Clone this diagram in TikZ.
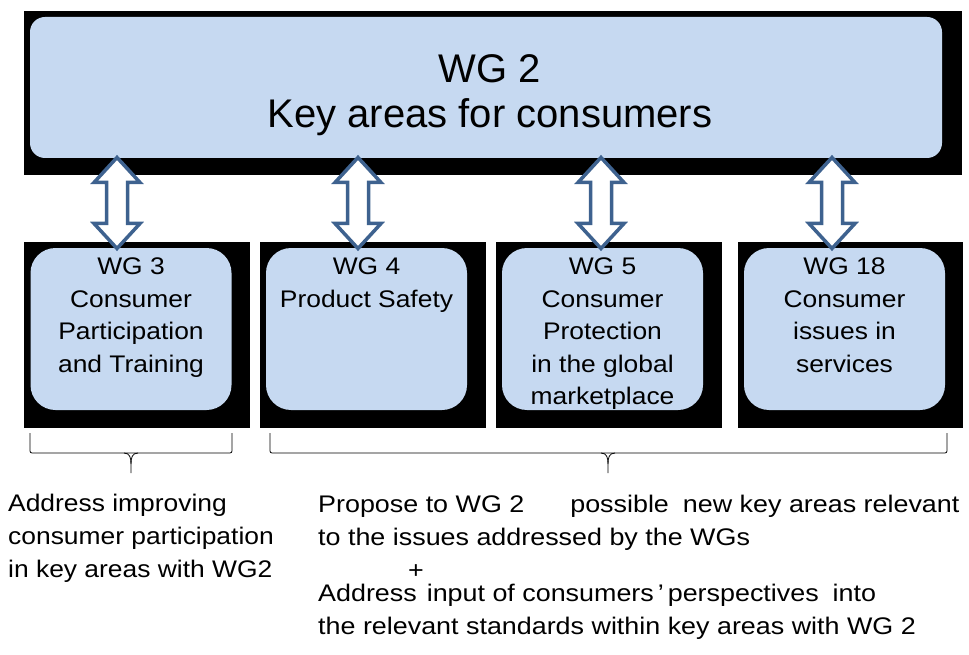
\documentclass[tikz,border=0pt]{standalone}
\usepackage{fontspec}
\setmainfont{Liberation Sans}
\newfontfamily\boxfont[FakeStretch=1.1]{Liberation Sans}
\newfontfamily\notefont[FakeStretch=1.12]{Liberation Sans}
\usetikzlibrary{calc}
\definecolor{wgblue}{RGB}{198,217,241}
\definecolor{arrowblue}{RGB}{62,98,143}
\tikzstyle{bigbox}=[rectangle, rounded corners=15pt, fill=wgblue, minimum width=912pt, minimum height=141pt]
\tikzstyle{bigtext}=[anchor=center, inner sep=0, xshift=4pt, yshift=-8pt, align=center, font=\fontsize{40}{45}\selectfont]
\tikzstyle{wgbox}=[rectangle, rounded corners=25pt, fill=wgblue, minimum width=201pt, minimum height=162pt]
\tikzstyle{wgtext}=[anchor=north, inner sep=0, yshift=-10pt, align=center, font=\boxfont\fontsize{24}{32.5}\selectfont]
\tikzstyle{note}=[anchor=north west, inner sep=0, align=left, font=\boxfont\fontsize{24}{33}\selectfont]
\tikzstyle{brace}=[line width=0.8pt, rounded corners=2pt]
\tikzset{linkarrow/.pic={
  \draw[arrowblue, line width=3.5pt, fill=white, line join=miter]
    (0,-45.5) -- (23,-20.5) -- (10.5,-20.5) -- (10.5,20.5) -- (23,20.5) -- (0,45.5)
    -- (-23,20.5) -- (-10.5,20.5) -- (-10.5,-20.5) -- (-23,-20.5) -- cycle;}}

\begin{document}
\begin{tikzpicture}[x=1pt, y=-1pt]
\useasboundingbox (0,0) rectangle (969,655);
% black frames
\fill (24,11) rectangle (962,175);
\fill (24,242) rectangle (250,428);
\fill (260,242) rectangle (486,428);
\fill (496,242) rectangle (722,428);
\fill (738,242) rectangle (963,428);
% boxes
\node[bigbox, label={[bigtext]center:{WG 2\\Key areas for consumers}}] (wgtwo) at (486,87.5) {};
\node[wgbox, label={[wgtext]north:{WG 3\\Consumer\\Participation\\and Training}}] (wgthree) at (131,329) {};
\node[wgbox, label={[wgtext]north:{WG 4\\Product Safety}}] (wgfour) at (366.5,329) {};
\node[wgbox, label={[wgtext]north:{WG 5\\Consumer\\Protection\\in the global\\marketplace}}] (wgfive) at (602.5,329) {};
\node[wgbox, label={[wgtext]north:{WG 18\\Consumer\\issues in\\services}}] (wgeighteen) at (844.5,329) {};
% links
\foreach \ax/\wg in {117/wgthree, 358/wgfour, 601/wgfive, 832/wgeighteen}
  \pic at ($(\ax,0 |- wgtwo.south)!.5!(\ax,0 |- \wg.north)$) {linkarrow};
% braces
\draw[brace] (30,433) -- (30,453) -- (232,453) -- (232,433);
\draw[line width=0.8pt] (124,453) .. controls (130,453) and (131,458) .. (131,464) -- (131,473);
\draw[line width=0.8pt] (138,453) .. controls (132,453) and (131,458) .. (131,464);
\draw[brace] (270,433) -- (270,453) -- (947,453) -- (947,433);
\draw[line width=0.8pt] (601,453) .. controls (607,453) and (608,458) .. (608,464) -- (608,473);
\draw[line width=0.8pt] (615,453) .. controls (609,453) and (608,458) .. (608,464);
% notes
\node[note] (leftnote) at (8,494) {Address improving\\consumer participation\\in key areas with WG2};
\node[note, font=\notefont\fontsize{24}{33}\selectfont] (rightnote) at (318,495) {Propose to WG 2\hspace*{46pt}possible\hspace*{14pt}new key areas relevant\\
  to the issues addressed by the WGs\\
  \hspace*{90pt}+\\[-10pt]
  Address\hspace*{10pt}input of consumers\,’\,perspectives\hspace*{14pt}into\\
  the relevant standards within key areas with WG 2};
\end{tikzpicture}
\end{document}
